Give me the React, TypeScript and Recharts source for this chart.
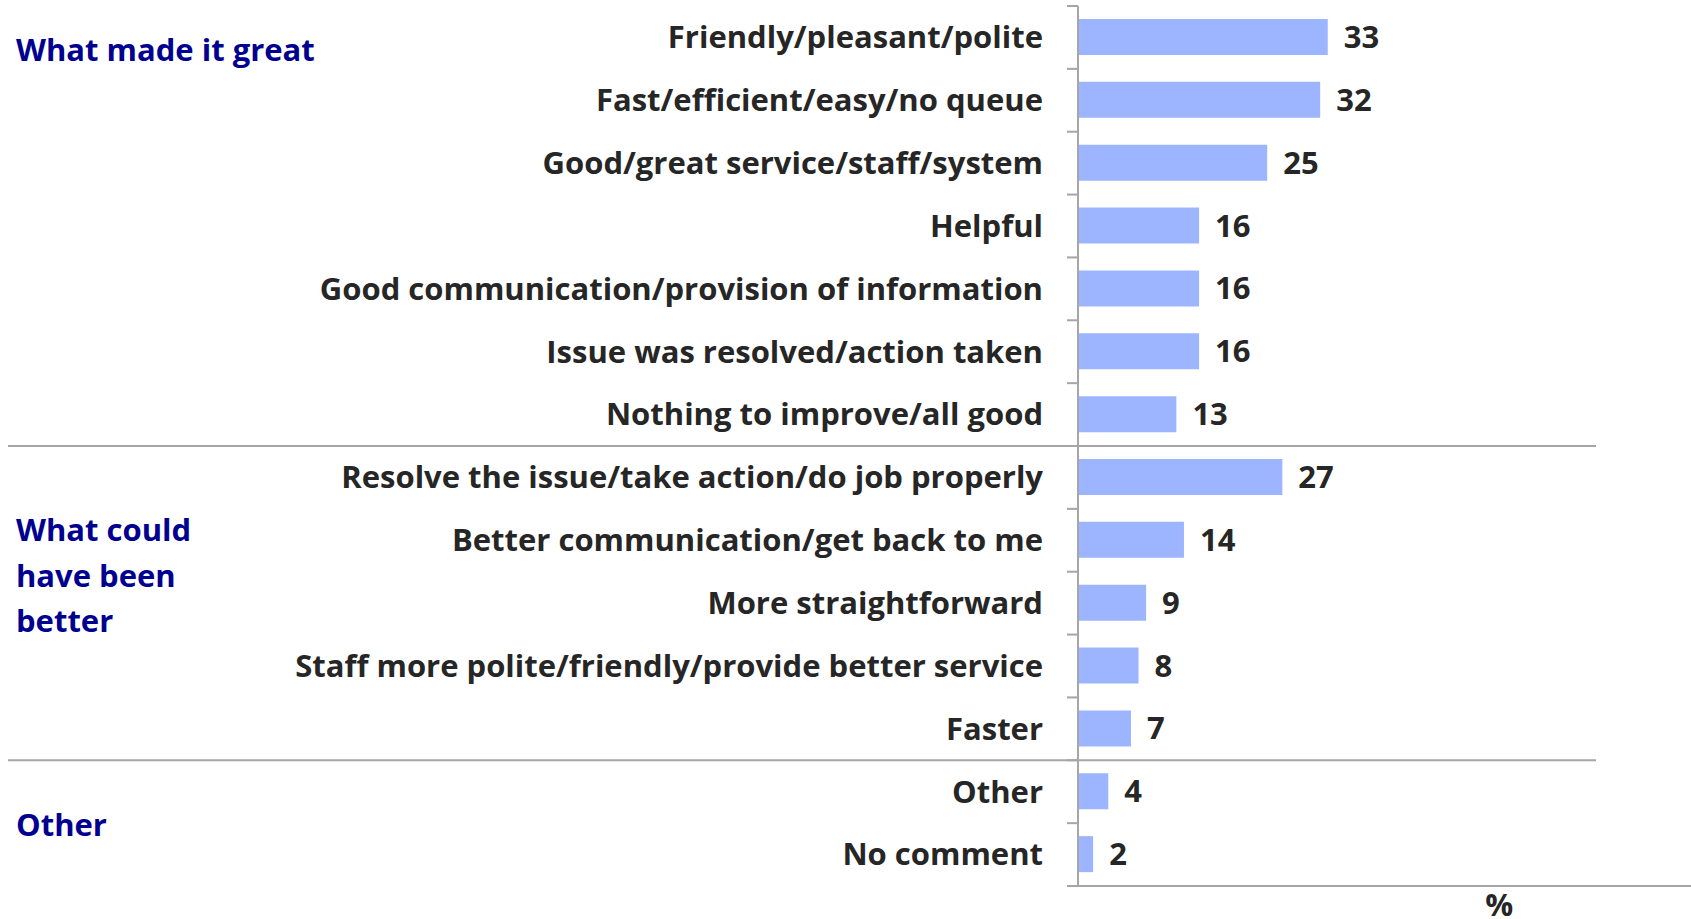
import { BarChart, Bar, XAxis, YAxis, LabelList } from "recharts";

const categories = [
  "Friendly/pleasant/polite",
  "Fast/efficient/easy/no queue",
  "Good/great service/staff/system",
  "Helpful",
  "Good communication/provision of information",
  "Issue was resolved/action taken",
  "Nothing to improve/all good",
  "Resolve the issue/take action/do job properly",
  "Better communication/get back to me",
  "More straightforward",
  "Staff more polite/friendly/provide better service",
  "Faster",
  "Other",
  "No comment",
];
const values = [33, 32, 25, 16, 16, 16, 13, 27, 14, 9, 8, 7, 4, 2];
const groupTitles = [["What made it great"], ["What could", "have been", "better"], ["Other"]];
const groupStarts = [0, 7, 12];

const data = categories.map((name, i) => ({ name, value: values[i] }));

// layout
const W = 1691;
const H = 919;
const AXIS_X = 1078;
const TOP = 6;
const BOTTOM = 886;
const BAND = (BOTTOM - TOP) / categories.length;
const groupLineY = [[50], [530, 576, 621], [825]];
const FONT = "'Open Sans', 'Noto Sans', sans-serif";
const FONT_SIZE = 31;
const GREY = "#a6a6a6";
const TEXT = "#262626";
const NAVY = "#000090";

function CategoryTick(props: any) {
  const { x, y, payload, index } = props;
  const top = y - BAND / 2;
  const bottom = y + BAND / 2;
  return (
    <g>
      <line x1={x - 11} x2={x} y1={top} y2={top} stroke={GREY} strokeWidth={2} />
      {index === categories.length - 1 && (
        <line x1={x - 11} x2={x} y1={bottom} y2={bottom} stroke={GREY} strokeWidth={2} />
      )}
      {index > 0 && groupStarts.includes(index) && (
        <line x1={8} x2={1596} y1={top} y2={top} stroke={GREY} strokeWidth={2} />
      )}
      <text
        x={x - 35}
        y={y}
        dy="0.35em"
        textAnchor="end"
        fill={TEXT}
        fontFamily={FONT}
        fontSize={FONT_SIZE}
        fontWeight="bold"
      >
        {payload.value}
      </text>
    </g>
  );
}

function PercentLabel(props: any) {
  const { viewBox } = props;
  return (
    <text
      x={viewBox.x + viewBox.width * 0.687}
      y={viewBox.y + 19}
      dy="0.35em"
      textAnchor="middle"
      fill={TEXT}
      fontFamily={FONT}
      fontSize={FONT_SIZE}
      fontWeight="bold"
    >
      %
    </text>
  );
}

export default function App() {
  return (
    <div style={{ position: "absolute", left: 0, top: 0, width: W, height: H, background: "#fff" }}>
      <BarChart
        width={W}
        height={H}
        data={data}
        layout="vertical"
        margin={{ top: TOP, right: 0, left: 0, bottom: 0 }}
        barCategoryGap={0}
      >
        <XAxis
          type="number"
          domain={[0, 81]}
          tick={false}
          tickLine={false}
          height={H - BOTTOM}
          axisLine={{ stroke: GREY, strokeWidth: 2 }}
          label={<PercentLabel />}
        />
        <YAxis
          type="category"
          dataKey="name"
          width={AXIS_X}
          tickSize={0}
          tickMargin={0}
          tickLine={false}
          axisLine={{ stroke: GREY, strokeWidth: 2 }}
          tick={<CategoryTick />}
          interval={0}
        />
        <Bar dataKey="value" fill="#9db5fe" barSize={36} isAnimationActive={false}>
          <LabelList
            dataKey="value"
            position="right"
            offset={16}
            fill={TEXT}
            fontFamily={FONT}
            fontSize={FONT_SIZE}
            fontWeight="bold"
          />
        </Bar>
      </BarChart>
      <svg width={W} height={H} style={{ position: "absolute", left: 0, top: 0, pointerEvents: "none" }}>
        {groupTitles.map((lines, g) =>
          lines.map((line, j) => (
            <text
              key={`${g}-${j}`}
              x={16}
              y={groupLineY[g][j]}
              dy="0.35em"
              fill={NAVY}
              fontFamily={FONT}
              fontSize={FONT_SIZE}
              fontWeight="bold"
            >
              {line}
            </text>
          ))
        )}
      </svg>
    </div>
  );
}
